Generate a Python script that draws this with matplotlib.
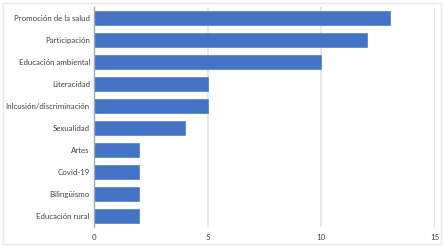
import matplotlib
matplotlib.use("Agg")
import matplotlib.pyplot as plt
from matplotlib.patches import Rectangle

categories = ["Promoción de la salud", "Participación", "Educación ambiental",
              "Literacidad", "Inlcusión/discriminación", "Sexualidad",
              "Artes", "Covid-19", "Bilingüismo", "Educación rural"]
values = [13, 12, 10, 5, 5, 4, 2, 2, 2, 2]
xticks = [0, 5, 10, 15]

plt.rcParams['font.family'] = ['Lato', 'DejaVu Sans']

fig = plt.figure(figsize=(4.44, 2.47), dpi=100)
ax = fig.add_axes([94 / 444, 1 - 227 / 247, 341 / 444, 220 / 247])

# light frame around the whole chart
fig.patches.append(Rectangle((3 / 444, 3 / 247), 438 / 444, 241 / 247,
                             transform=fig.transFigure, fill=False,
                             edgecolor="#e8e8e8", linewidth=1))

pos = list(range(len(categories)))
ax.barh(pos, values, height=0.65, color="#4472C4", edgecolor="#5b86d0",
        linewidth=0.6, zorder=3)

ax.set_ylim(len(categories) - 0.5, -0.5)
ax.set_xlim(0, 15)
ax.set_yticks(pos)
ax.set_yticklabels(categories, fontsize=5.7, color="#404040")
ax.set_xticks(xticks)
ax.set_xticklabels([str(t) for t in xticks], fontsize=5.7, color="#404040")
ax.tick_params(axis="y", length=0, pad=3)
ax.tick_params(axis="x", length=0, pad=5)
ax.xaxis.grid(True, color="#e3e3e3", linewidth=1.2, zorder=0)
for s in ["top", "right", "bottom"]:
    ax.spines[s].set_visible(False)
ax.spines["left"].set_color("#a6a6a6")
ax.spines["left"].set_linewidth(1)
ax.spines["left"].set_zorder(4)

fig.savefig("out.png", dpi=100)
